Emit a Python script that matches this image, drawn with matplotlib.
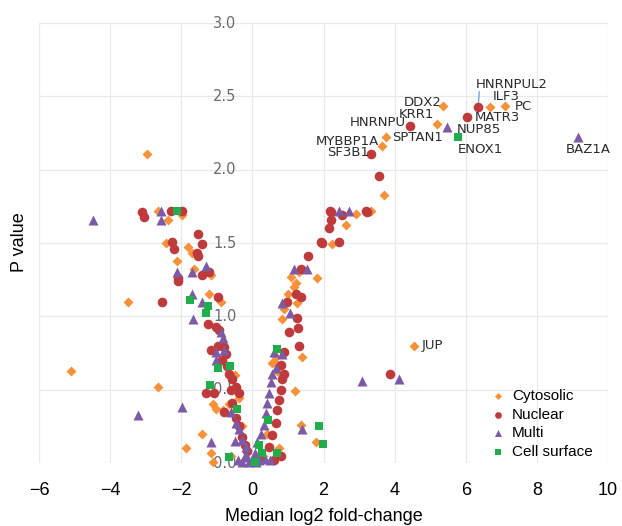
import matplotlib
matplotlib.use("Agg")
import matplotlib.pyplot as plt

# values: median log2 fold-change (x) and P value (y)
cyto_x = [5.37, 6.69, 7.11, 5.20, 3.76, 3.65, 4.55,
          -2.95, -2.64, -2.36, -1.99, -2.44, -2.13, -1.80, -1.69, -1.63, -1.15,
          -3.51, -5.11, -2.64, -1.88, -1.43, -1.15, -1.12, -1.01, -0.84, -0.65,
          -0.37, -1.21, -0.87, -1.12, -0.50, -0.30, -0.60,
          3.71, 3.34, 2.64, 2.25, 1.10, 1.24, 1.32, 1.83, 1.18, 1.26, 0.84,
          1.40, 0.67, 0.56, 0.62, 0.70, 0.84, 1.21, 1.38, 1.80, 0.90, 1.00,
          0.40, 0.30, 0.75, 2.90]
cyto_y = [2.435, 2.43, 2.435, 2.31, 2.22, 2.16, 0.80,
          2.11, 1.72, 1.66, 1.69, 1.50, 1.38, 1.47, 1.43, 1.32, 1.28,
          1.10, 0.63, 0.52, 0.10, 0.20, 0.07, 0.40, 0.37, 0.36, 0.40,
          0.44, 1.15, 1.10, 0.01, 0.60, 0.25, 0.05,
          1.83, 1.72, 1.62, 1.49, 1.27, 1.23, 1.30, 1.26, 1.20, 1.09, 0.98,
          0.72, 0.72, 0.68, 0.69, 0.63, 0.60, 0.49, 0.26, 0.14, 1.05, 1.15,
          0.20, 0.05, 0.10, 1.70]

nuc_x = [6.35, 6.04, 4.44, 3.34, 3.57, 3.88,
         -3.09, -3.06, -2.28, -1.99, -2.25, -2.19, -2.10, -1.54, -1.43, -1.57,
         -1.52, -2.08, -1.43, -1.21, -2.53, -0.98, -1.26, -1.01, -0.93, -0.98,
         -0.79, -1.15, -0.73, -0.65, -0.56, -0.45, -0.39, -1.29, -1.07, -0.79,
         -0.56, -0.45, -0.37, -0.28, -0.22, -0.14, -0.85, -0.70, -0.60,
         2.19, 2.22, 2.53, 3.20, 3.23, 2.22, 2.16, 1.94, 1.97, 2.44, 1.57,
         1.38, 1.24, 1.38, 0.98, 1.26, 1.29, 1.04, 1.32, 0.90, 0.81, 0.48,
         0.56, 0.67, 0.70, 0.76, 0.81, 0.84, 0.90, 0.81, 0.20, 0.60]
nuc_y = [2.43, 2.36, 2.30, 2.11, 1.96, 0.61,
         1.71, 1.68, 1.72, 1.72, 1.51, 1.46, 1.26, 1.56, 1.49, 1.43,
         1.41, 1.24, 1.28, 1.30, 1.10, 1.13, 0.95, 0.93, 0.91, 0.80,
         0.79, 0.77, 0.74, 0.61, 0.57, 0.52, 0.48, 0.48, 0.48, 0.35,
         0.41, 0.31, 0.25, 0.18, 0.12, 0.08, 0.70, 0.66, 0.50,
         1.72, 1.71, 1.69, 1.72, 1.71, 1.66, 1.60, 1.51, 1.50, 1.51, 1.41,
         1.32, 1.15, 1.13, 1.10, 0.99, 0.92, 0.89, 0.80, 0.76, 0.67, 0.11,
         0.19, 0.27, 0.36, 0.43, 0.50, 0.57, 0.61, 0.05, 0.03, 0.02]

multi_x = [5.48, 9.16, 3.09, 4.13,
           -4.49, -2.56, -2.58, -2.13, -1.71, -1.29, -1.66, -3.23, -1.97, -1.15,
           -1.69, -1.43, -0.87, -0.84, -1.01, -0.79, -1.01, -0.45, -0.37, -0.28,
           -0.17, -0.14, -0.28, -0.40, -0.10, 0.00, 0.10, 0.20, 0.35, -0.20,
           -0.50, -0.60,
           2.44, 2.72, 1.18, 1.54, 0.84, 1.07, 0.62, 0.84, 1.40, 0.06, 0.14,
           0.25, 0.34, 0.39, 0.42, 0.48, 0.53, 0.56, 0.67, 0.50]
multi_y = [2.29, 2.22, 0.56, 0.57,
           1.66, 1.72, 1.66, 1.30, 1.30, 1.34, 0.98, 0.33, 0.38, 0.14,
           1.15, 1.10, 0.89, 0.85, 0.76, 0.77, 0.70, 0.27, 0.23, 0.16,
           0.11, 0.04, 0.01, 0.02, 0.01, 0.02, 0.01, 0.02, 0.03, 0.05,
           0.15, 0.35,
           1.72, 1.72, 1.32, 1.32, 1.09, 1.02, 0.76, 0.74, 0.23, 0.07, 0.14,
           0.20, 0.26, 0.34, 0.41, 0.48, 0.55, 0.61, 0.65, 0.02]

surf_x = [5.79, -2.11, -1.74, -1.24, -1.29, -0.98, -0.62, -1.18, -0.67, -0.42,
          0.70, 0.45, 0.20, 0.06, 0.70, 1.88, 1.99, 0.28]
surf_y = [2.22, 1.72, 1.11, 1.07, 1.02, 0.65, 0.66, 0.53, 0.04, 0.37,
          0.78, 0.29, 0.12, 0.01, 0.07, 0.25, 0.13, 0.07]

# gene labels: name, point, label offset (right, up) in pixels, alignment
genes = ["HNRNPUL2", "ILF3", "PC", "DDX2", "MATR3", "KRR1", "HNRNPU",
         "NUP85", "SPTAN1", "MYBBP1A", "SF3B1", "ENOX1", "BAZ1A", "JUP"]
gene_x = [6.35, 6.69, 7.11, 5.37, 6.04, 5.20, 4.44, 5.48, 3.76, 3.65, 3.34,
          5.79, 9.16, 4.55]
gene_y = [2.43, 2.43, 2.435, 2.435, 2.36, 2.31, 2.30, 2.29, 2.22, 2.16, 2.11,
          2.22, 2.22, 0.80]
gene_off = [(-2, 22), (2, 10), (10, -1), (-2, 3), (8, -1), (-3, 10), (-4, 3),
            (9, -2), (6, 0), (-3, 5), (-2, 1), (-1, -12), (-12, -12), (7, 0)]
gene_ha = ["left", "left", "left", "right", "left", "right", "right",
           "left", "left", "right", "right", "left", "left", "left"]

xticks = [-6, -4, -2, 0, 2, 4, 6, 8, 10]
yticks = [0.0, 0.5, 1.0, 1.5, 2.0, 2.5, 3.0]

fig = plt.figure(figsize=(6.22, 5.26), dpi=100)
ax = fig.add_axes([39/622, 63/526, 569/622, 440/526])
ax.set_xlim(-6, 10)
ax.set_ylim(0, 3)
ax.set_axisbelow(True)
ax.grid(True, color="#e5eaed", linewidth=0.9)
for s in ax.spines.values():
    s.set_visible(False)

ax.set_xticks(xticks)
ax.set_xticklabels(["\u2212%d" % -t if t < 0 else str(t) for t in xticks],
                   fontsize=13, family="Liberation Sans")
ax.set_yticks(yticks)
ax.tick_params(axis="both", length=0)
ax.tick_params(axis="x", pad=14)
ax.set_yticklabels([])

# y tick labels sit on the zero line, under the points
for v in yticks:
    ax.text(-0.45, v, "%.1f" % v, ha="right", va="center", fontsize=10.5,
            color="#6a6a6a", zorder=1.5)

ax.scatter(cyto_x, cyto_y, marker="D", s=26, color="#f7923a", label="Cytosolic",
           zorder=3, clip_on=False, linewidths=0)
ax.scatter(nuc_x, nuc_y, marker="o", s=48, color="#be3a3c", label="Nuclear",
           zorder=3.1, clip_on=False, linewidths=0)
ax.scatter(multi_x, multi_y, marker="^", s=52, color="#7d5aa5", label="Multi",
           zorder=3.2, clip_on=False, linewidths=0)
ax.scatter(surf_x, surf_y, marker="s", s=34, color="#1fae4b", label="Cell surface",
           zorder=3.3, clip_on=False, linewidths=0)

for name, gx, gy, off, ha in zip(genes, gene_x, gene_y, gene_off, gene_ha):
    ax.annotate(name, (gx, gy), xytext=off, textcoords="offset pixels",
                ha=ha, va="center", fontsize=9.5, color="#2b2b2b", zorder=4)
# little leader line for HNRNPUL2
ax.annotate("", (6.35, 2.43), xytext=(1, 15), textcoords="offset pixels",
            arrowprops=dict(arrowstyle="-", color="#6fa8dc", lw=1,
                            shrinkA=0, shrinkB=3),
            zorder=4)

ax.set_xlabel("Median log2 fold-change", fontsize=13, family="Liberation Sans",
              labelpad=6)
fig.text(0.032, 0.54, "P value", rotation=90, ha="center", va="center",
         fontsize=13, family="Liberation Sans")

ax.legend(loc="upper left", bbox_to_anchor=(0.783, 0.185), frameon=False,
          borderpad=0, handlelength=0.8, handletextpad=0.5, labelspacing=0.3,
          markerscale=0.7, prop={"family": "Liberation Sans", "size": 11})

fig.savefig("out.png", dpi=100)
